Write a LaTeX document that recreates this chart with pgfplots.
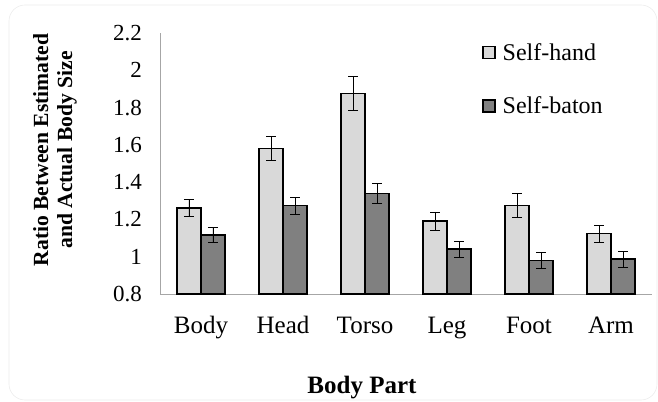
\documentclass[border=0pt]{standalone}
\usepackage{fontspec}
\setmainfont{Liberation Serif}
\usepackage{pgfplots}
\pgfplotsset{compat=1.18}

\definecolor{handfill}{HTML}{D9D9D9}
\definecolor{batonfill}{HTML}{808080}
\definecolor{spine}{HTML}{A6A6A6}

\pgfplotsset{
  boxlegend/.style={legend image code/.code={
      \draw[##1, line width=1.5bp] (0bp,-6bp) rectangle (12bp,6bp);}},
  errs/.style={error bars/.cd,
      y dir=both, y explicit,
      error bar style={black, line width=0.8bp},
      error mark options={rotate=90, mark size=5bp, black, line width=0.8bp}},
}

\begin{document}
\begin{tikzpicture}
\path[use as bounding box] (-160bp,-108bp) rectangle (498bp,294bp);
\draw[gray!15, line width=0.6bp, rounded corners=16bp] (-151bp,-106bp) rectangle (497bp,289bp);
\begin{axis}[
    scale only axis,
    width=492bp, height=261bp,
    ybar=0pt,
    bar width=24bp,
    xmin=-0.5, xmax=5.5,
    ymin=0.8, ymax=2.2,
    xtick={0,1,2,3,4,5},
    xticklabels={Body,Head,Torso,Leg,Foot,Arm},
    ytick={0.8,1,1.2,1.4,1.6,1.8,2,2.2},
    major tick length=0pt,
    axis x line*=bottom,
    axis y line*=left,
    axis line style={spine, line width=0.8bp, -},
    /pgf/number format/assume math mode=true,
    yticklabel style={font=\fontsize{23bp}{27bp}\selectfont, inner sep=0pt, xshift=-18bp},
    xticklabel style={font=\fontsize{25bp}{29bp}\selectfont, inner sep=0pt, anchor=base, yshift=-39bp},
    legend style={draw=none, fill=none, at={(rel axis cs:0.6545,0.965)}, anchor=north west,
      font=\fontsize{24bp}{28bp}\selectfont, row sep=33bp, inner sep=0pt,
      nodes={inner sep=1bp}, /tikz/every odd column/.style={column sep=6bp}},
    legend cell align=left,
  ]
\addplot[fill=handfill, draw=black, line width=1.6bp, boxlegend, errs] coordinates {
  (0,1.260) +- (0,0.045)
  (1,1.580) +- (0,0.065)
  (2,1.875) +- (0,0.090)
  (3,1.190) +- (0,0.050)
  (4,1.274) +- (0,0.065)
  (5,1.124) +- (0,0.045)
};
\addplot[fill=batonfill, draw=black, line width=1.6bp, boxlegend, errs] coordinates {
  (0,1.115) +- (0,0.040)
  (1,1.274) +- (0,0.045)
  (2,1.340) +- (0,0.053)
  (3,1.040) +- (0,0.042)
  (4,0.980) +- (0,0.042)
  (5,0.987) +- (0,0.042)
};
\legend{Self-hand,Self-baton}
\end{axis}
% axis box south west corner sits at (0,0)
\node[rotate=90, align=center, font=\bfseries\fontsize{21.6bp}{24bp}\selectfont]
  at (-105bp,144bp) {Ratio Between Estimated\\and Actual Body Size};
\node[anchor=base, font=\bfseries\fontsize{25bp}{29bp}\selectfont]
  at (202bp,-99bp) {Body Part};
\end{tikzpicture}
\end{document}
